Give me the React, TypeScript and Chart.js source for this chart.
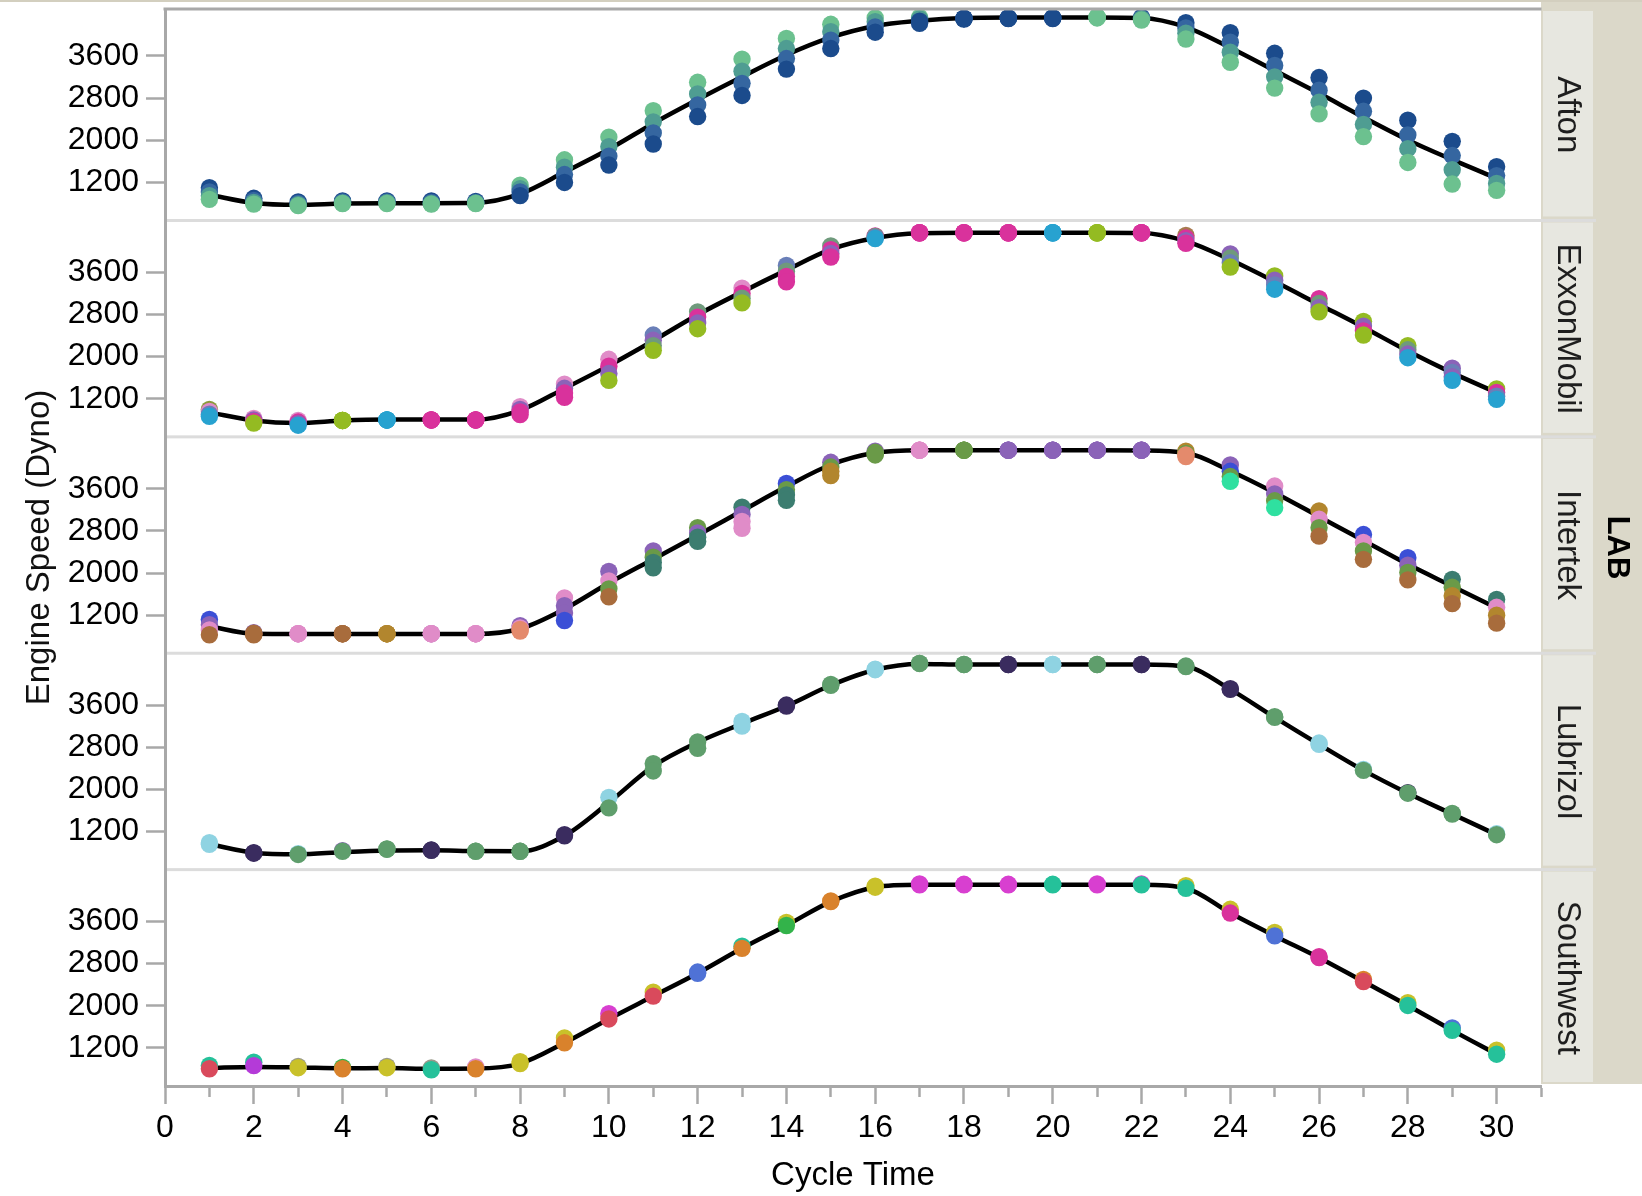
import React, { useEffect, useRef } from 'react';
import { Chart, registerables } from 'chart.js';

Chart.register(...registerables);

// ---------------- data ----------------
const CYCLE = [1, 2, 3, 4, 5, 6, 7, 8, 9, 10, 11, 12, 13, 14, 15, 16, 17, 18, 19, 20, 21, 22, 23, 24, 25, 26, 27, 28, 29, 30];
const X_TICKS = [0, 1, 2, 3, 4, 5, 6, 7, 8, 9, 10, 11, 12, 13, 14, 15, 16, 17, 18, 19, 20, 21, 22, 23, 24, 25, 26, 27, 28, 29, 30, 31];
const X_LABELS = [0, 2, 4, 6, 8, 10, 12, 14, 16, 18, 20, 22, 24, 26, 28, 30];
const Y_TICKS = [1200, 2000, 2800, 3600];
const LAB_NAMES = ['Afton', 'ExxonMobil', 'Intertek', 'Lubrizol', 'Southwest'];

// Afton
const AFTON_FIT = [966, 810, 775, 800, 808, 808, 815, 984, 1397, 1830, 2320, 2772, 3205, 3617, 3950, 4168, 4266, 4320, 4330, 4330, 4330, 4320, 4147, 3755, 3322, 2890, 2438, 2007, 1633, 1280];
const AFTON_HI = [1100, 900, 830, 850, 850, 850, 840, 1150, 1630, 2060, 2560, 3100, 3540, 3930, 4200, 4320, 4330, 4310, 4320, 4320, 4340, 4330, 4230, 4040, 3650, 3190, 2800, 2380, 1980, 1500];
const AFTON_M1 = [1020, 860, 800, 830, 830, 820, 820, 1080, 1490, 1880, 2350, 2880, 3310, 3740, 4060, 4250, 4300, 4310, 4320, 4320, 4335, 4310, 4130, 3860, 3420, 2950, 2550, 2100, 1710, 1330];
const AFTON_M2 = [950, 820, 780, 810, 815, 800, 810, 1020, 1350, 1700, 2140, 2670, 3080, 3550, 3900, 4150, 4260, 4310, 4315, 4320, 4330, 4300, 4030, 3670, 3200, 2720, 2300, 1840, 1440, 1180];
const AFTON_LO = [880, 790, 760, 800, 800, 790, 800, 950, 1200, 1530, 1930, 2450, 2850, 3350, 3740, 4050, 4220, 4300, 4310, 4310, 4320, 4280, 3920, 3480, 2990, 2500, 2070, 1580, 1170, 1050];

// ExxonMobil
const EXXON_FIT = [944, 790, 740, 787, 806, 806, 806, 983, 1397, 1830, 2302, 2794, 3228, 3641, 4035, 4251, 4340, 4350, 4350, 4350, 4350, 4345, 4192, 3838, 3425, 2991, 2558, 2106, 1692, 1318];
const EXXON_HI = [1000, 830, 790, 790, 800, 800, 800, 1050, 1480, 1950, 2410, 2850, 3300, 3730, 4100, 4290, 4350, 4350, 4350, 4350, 4350, 4350, 4300, 3950, 3530, 3100, 2670, 2210, 1780, 1390];
const EXXON_M1 = [960, 800, 760, 790, 800, 800, 800, 1000, 1400, 1820, 2310, 2750, 3200, 3620, 4030, 4280, 4350, 4350, 4350, 4350, 4350, 4350, 4250, 3870, 3450, 3010, 2580, 2130, 1700, 1320];
const EXXON_M2 = [910, 770, 730, 790, 800, 800, 800, 950, 1310, 1680, 2210, 2640, 3110, 3520, 3960, 4260, 4350, 4350, 4350, 4350, 4350, 4350, 4200, 3780, 3360, 2930, 2490, 2050, 1620, 1250];
const EXXON_LO = [870, 740, 700, 790, 800, 800, 800, 900, 1230, 1550, 2120, 2530, 3020, 3420, 3890, 4240, 4350, 4350, 4350, 4350, 4350, 4350, 4150, 3700, 3280, 2850, 2410, 1980, 1550, 1190];

// Intertek
const INTER_FIT = [990, 850, 846, 846, 846, 846, 846, 944, 1318, 1810, 2263, 2716, 3180, 3641, 4054, 4280, 4330, 4330, 4330, 4330, 4330, 4325, 4280, 3936, 3523, 3070, 2617, 2165, 1751, 1338];
const INTER_HI = [1120, 870, 850, 850, 850, 850, 850, 1000, 1530, 2030, 2420, 2860, 3250, 3700, 4100, 4310, 4330, 4330, 4330, 4330, 4330, 4330, 4310, 4050, 3650, 3180, 2730, 2290, 1880, 1500];
const INTER_M1 = [1020, 860, 850, 850, 850, 850, 850, 960, 1380, 1850, 2300, 2760, 3110, 3580, 4010, 4290, 4330, 4330, 4330, 4330, 4330, 4330, 4270, 3930, 3500, 3020, 2580, 2150, 1730, 1350];
const INTER_M2 = [920, 840, 850, 850, 850, 850, 850, 930, 1240, 1700, 2200, 2680, 2980, 3480, 3930, 4260, 4330, 4330, 4330, 4330, 4330, 4330, 4240, 3830, 3370, 2860, 2420, 2010, 1570, 1200];
const INTER_LO = [830, 830, 850, 850, 850, 850, 850, 900, 1100, 1550, 2100, 2600, 2850, 3380, 3850, 4240, 4330, 4330, 4330, 4330, 4330, 4330, 4210, 3740, 3240, 2700, 2260, 1870, 1420, 1050];

// Lubrizol
const LUB_FIT = [964, 800, 770, 810, 840, 846, 830, 826, 1121, 1751, 2440, 2893, 3247, 3582, 3976, 4271, 4380, 4369, 4369, 4369, 4369, 4369, 4330, 3897, 3366, 2854, 2361, 1928, 1534, 1141];
const LUB_HI = [990, 800, 780, 840, 870, 850, 830, 826, 1140, 1850, 2490, 2900, 3290, 3600, 3990, 4280, 4390, 4370, 4370, 4370, 4370, 4370, 4340, 3910, 3380, 2880, 2380, 1940, 1545, 1160];
const LUB_LO = [960, 790, 767, 826, 866, 846, 826, 826, 1121, 1650, 2350, 2780, 3200, 3582, 3976, 4271, 4389, 4369, 4369, 4369, 4369, 4369, 4330, 3897, 3366, 2854, 2361, 1928, 1534, 1141];

// Southwest
const SW_FIT = [820, 840, 830, 815, 820, 805, 810, 905, 1298, 1751, 2184, 2617, 3090, 3523, 3976, 4250, 4295, 4295, 4295, 4295, 4295, 4295, 4230, 3759, 3326, 2913, 2460, 2007, 1534, 1082];
const SW_HI = [870, 930, 850, 830, 850, 820, 840, 940, 1390, 1850, 2260, 2640, 3130, 3580, 3990, 4270, 4310, 4305, 4305, 4305, 4310, 4310, 4280, 3830, 3390, 2930, 2500, 2060, 1580, 1160];
const SW_LO = [806, 865, 826, 806, 826, 787, 806, 905, 1298, 1751, 2184, 2617, 3090, 3523, 3976, 4250, 4295, 4295, 4295, 4295, 4295, 4295, 4230, 3759, 3326, 2913, 2460, 2007, 1534, 1082];

// ---------------- styles ----------------
const PALETTE: Record<string, string> = {
  N: '#1b4b8c', n: '#3566a0', T: '#4f9d92', G: '#6cc18f',
  M: '#d9329c', p: '#e08cc8', O: '#94bb22', o: '#8b9b3c', C: '#27a2d0', P: '#8b63b8',
  g: '#6f9a7c', b: '#6a7fb8', w: '#a87a50',
  K: '#3b4fd6', B: '#a86c3c', R: '#e48a6c', E: '#2fe0a0', D: '#3c7d70', Q: '#b2862e', j: '#6a9a48',
  d: '#3a2c5f', L: '#8fd3e2', V: '#5f9e6c',
  r: '#d94a5c', v: '#b43ad8', Y: '#c9c12a', q: '#d9822c', S: '#25c19a', U: '#4f72d6', H: '#33b34a', m: '#d83fd0', x: '#9a9a8a',
};

const AFTON_HI_C = 'NNNNNNNGGGGGGGGGGNNNGNNNNNNNNN';
const AFTON_M1_C = 'nnnnnnnTTTTTTTTTTNNNGnnnnnnnnn';
const AFTON_M2_C = 'TTTTTTTnnnnnnnnnNNNNGTTTTTTTTT';
const AFTON_LO_C = 'GGGGGGGNNNNNNNNNNNNNGGGGGGGGGG';
const EXXON_HI_C = 'oppOCMMpppbgpbgMMMMCOMwPOMOOPO';
const EXXON_M1_C = 'pPMOCMMPPMPMMgMgMMMCOMMgPgPgbM';
const EXXON_M2_C = 'bMPOCMMMMPgPgMPbMMMCOMPbbPMPPb';
const EXXON_LO_C = 'COCOCMMMMOOOOMMCMMMCOMMOCOOCCC';
const INTER_HI_C = 'KPpBQPpPpPPjDKPPpjPPPPQPpQKKDD';
const INTER_M1_C = 'PBpBQpppPpjPPjjjpjPPPPjKPppPjp';
const INTER_M2_C = 'pBpBQppRPjDDpDQjpjPPPPRjjjjjQQ';
const INTER_LO_C = 'BBpBQppRKBDDpDQjpjPPPPREEBBBBB';
const LUB_HI_C = 'LdLPVdVVdLVVLdVLVVdLVdVdVLLdVL';
const LUB_LO_C = 'LdVVVdVVdVVVLdVLVVdLVdVdVLVVVV';
const SW_HI_C = 'SSxHxxpYYmYUSYqYmmmSmmYYYMqYUY';
const SW_LO_C = 'rvYqYSqYqrrUqHqYmmmSmSSMUMrSSS';

const LABS = [
  { fit: AFTON_FIT, runs: [[AFTON_HI, AFTON_HI_C], [AFTON_M1, AFTON_M1_C], [AFTON_M2, AFTON_M2_C], [AFTON_LO, AFTON_LO_C]] },
  { fit: EXXON_FIT, runs: [[EXXON_HI, EXXON_HI_C], [EXXON_M1, EXXON_M1_C], [EXXON_M2, EXXON_M2_C], [EXXON_LO, EXXON_LO_C]] },
  { fit: INTER_FIT, runs: [[INTER_HI, INTER_HI_C], [INTER_M1, INTER_M1_C], [INTER_M2, INTER_M2_C], [INTER_LO, INTER_LO_C]] },
  { fit: LUB_FIT, runs: [[LUB_HI, LUB_HI_C], [LUB_LO, LUB_LO_C]] },
  { fit: SW_FIT, runs: [[SW_HI, SW_HI_C], [SW_LO, SW_LO_C]] },
] as { fit: number[]; runs: [number[], string][] }[];

// axis ranges (panel 1 is drawn a little shorter at the top, as in the original)
const Y_MIN = 479;
const Y_MAX = [4490, 4583, 4583, 4583, 4583];
const PANEL_WEIGHT = [211.4, 216.3, 216.3, 216.3, 216.3];

const FONT = '"Liberation Sans", Arial, sans-serif';
const AXIS_GRAY = '#a8a8a8';
const W = 1642;
const H = 1196;

function buildConfig(): any {
  const datasets: any[] = [];
  const scales: any = {};
  LABS.forEach((lab, i) => {
    const axis = 'y' + i;
    datasets.push({
      type: 'line',
      data: CYCLE.map((c, k) => ({ x: c, y: lab.fit[k] })),
      yAxisID: axis,
      xAxisID: 'x',
      borderColor: '#000',
      borderWidth: 4.5,
      pointRadius: 0,
      fill: false,
      cubicInterpolationMode: 'monotone',
      order: 20,
    });
    const nRuns = lab.runs.length;
    lab.runs.forEach(([vals, cols], r) => {
      datasets.push({
        type: 'scatter',
        data: CYCLE.map((c, k) => ({ x: c, y: vals[k] })),
        yAxisID: axis,
        xAxisID: 'x',
        pointRadius: 8.7,
        pointBorderWidth: 0,
        pointBackgroundColor: cols.split('').map((ch) => PALETTE[ch]),
        showLine: false,
        order: nRuns - r,
      });
    });
    scales[axis] = {
      type: 'linear',
      position: 'left',
      stack: 'labs',
      stackWeight: PANEL_WEIGHT[i],
      weight: LABS.length - i,
      min: Y_MIN,
      max: Y_MAX[i],
      afterBuildTicks: (s: any) => {
        s.ticks = Y_TICKS.map((v) => ({ value: v }));
      },
      afterFit: (s: any) => {
        s.width = 165;
        s.paddingTop = 0;
        s.paddingBottom = 0;
      },
      ticks: {
        autoSkip: false,
        font: { family: FONT, size: 32 },
        color: '#000',
        padding: 7,
        callback: (v: number) => String(v),
      },
      grid: { drawOnChartArea: false, drawTicks: true, tickLength: 19, tickColor: AXIS_GRAY, tickWidth: 2.5 },
      border: { display: true, color: AXIS_GRAY, width: 3 },
    };
  });
  scales.x = {
    type: 'linear',
    position: 'bottom',
    min: 0,
    max: 31,
    afterBuildTicks: (s: any) => {
      s.ticks = X_TICKS.map((v) => ({ value: v }));
    },
    afterFit: (s: any) => {
      s.height = 110;
      s.paddingLeft = 0;
      s.paddingRight = 0;
    },
    ticks: {
      autoSkip: false,
      maxRotation: 0,
      font: { family: FONT, size: 32 },
      color: '#000',
      padding: 5,
      callback: (v: number) => (X_LABELS.includes(v) ? String(v) : ''),
    },
    grid: {
      drawOnChartArea: false,
      tickLength: 18,
      tickColor: AXIS_GRAY,
      tickWidth: 2.5,
      tickBorderDash: (ctx: any) => (ctx.tick && !X_LABELS.includes(ctx.tick.value) ? [9, 60] : []),
    },
    border: { display: true, color: AXIS_GRAY, width: 3 },
    title: { display: true, text: 'Cycle Time', font: { family: FONT, size: 33 }, color: '#000', padding: { top: 0, bottom: 0 } },
  };

  const panelPlugin = {
    id: 'panels',
    beforeDraw(chart: any) {
      const { ctx, chartArea } = chart;
      ctx.save();
      ctx.fillStyle = '#ffffff';
      ctx.fillRect(0, 0, W, H);
      ctx.fillStyle = '#dbd8c9';
      ctx.fillRect(chartArea.right, 0, W - chartArea.right, chartArea.bottom - 2);
      ctx.fillStyle = '#d3cfbf';
      ctx.fillRect(0, 0, W, 2);
      LABS.forEach((_, i) => {
        const s = chart.scales['y' + i];
        ctx.fillStyle = '#e7e7e0';
        ctx.fillRect(chartArea.right + 2, s.top + 2, 50, s.bottom - s.top - 6);
      });
      ctx.fillStyle = '#dcdcdc';
      LABS.forEach((_, i) => {
        if (i === 0) return;
        const s = chart.scales['y' + i];
        ctx.fillRect(chartArea.left, s.top - 1.5, chartArea.right + 55 - chartArea.left, 3);
      });
      ctx.restore();
    },
    afterDraw(chart: any) {
      const { ctx, chartArea } = chart;
      ctx.save();
      ctx.fillStyle = AXIS_GRAY;
      ctx.fillRect(chartArea.left - 1.5, chartArea.top - 1.5, chartArea.right + 2 - chartArea.left, 3);
      // y title
      ctx.fillStyle = '#111';
      ctx.font = '33px ' + FONT;
      ctx.textAlign = 'center';
      ctx.textBaseline = 'middle';
      ctx.save();
      ctx.translate(40, (chartArea.top + chartArea.bottom) / 2);
      ctx.rotate(-Math.PI / 2);
      ctx.fillText('Engine Speed (Dyno)', 0, 0);
      ctx.restore();
      // strip labels
      LAB_NAMES.forEach((name, i) => {
        const s = chart.scales['y' + i];
        ctx.save();
        ctx.translate(chartArea.right + 26, (s.top + s.bottom) / 2);
        ctx.rotate(Math.PI / 2);
        ctx.fillStyle = '#1e1e1e';
        ctx.font = '33px ' + FONT;
        ctx.fillText(name, 0, 0);
        ctx.restore();
      });
      ctx.save();
      ctx.translate(chartArea.right + 76, (chartArea.top + chartArea.bottom) / 2);
      ctx.rotate(Math.PI / 2);
      ctx.fillStyle = '#000';
      ctx.font = 'bold 31px ' + FONT;
      ctx.fillText('LAB', 0, 0);
      ctx.restore();
      ctx.restore();
    },
  };

  return {
    type: 'scatter',
    data: { datasets },
    options: {
      responsive: false,
      maintainAspectRatio: false,
      devicePixelRatio: 1,
      animation: false,
      events: [],
      layout: { padding: { top: 9, right: W - 1541, left: 0, bottom: 0 } },
      plugins: { legend: { display: false }, tooltip: { enabled: false }, title: { display: false } },
      scales,
    },
    plugins: [panelPlugin],
  };
}

export default function App() {
  const ref = useRef<HTMLCanvasElement | null>(null);
  useEffect(() => {
    if (!ref.current) return;
    Chart.defaults.font.family = FONT;
    const chart = new Chart(ref.current, buildConfig());
    return () => chart.destroy();
  }, []);
  return (
    <div style={{ position: 'absolute', left: 0, top: 0, width: W, height: H, background: '#fff' }}>
      <canvas ref={ref} width={W} height={H} style={{ display: 'block', width: W, height: H }} />
    </div>
  );
}
